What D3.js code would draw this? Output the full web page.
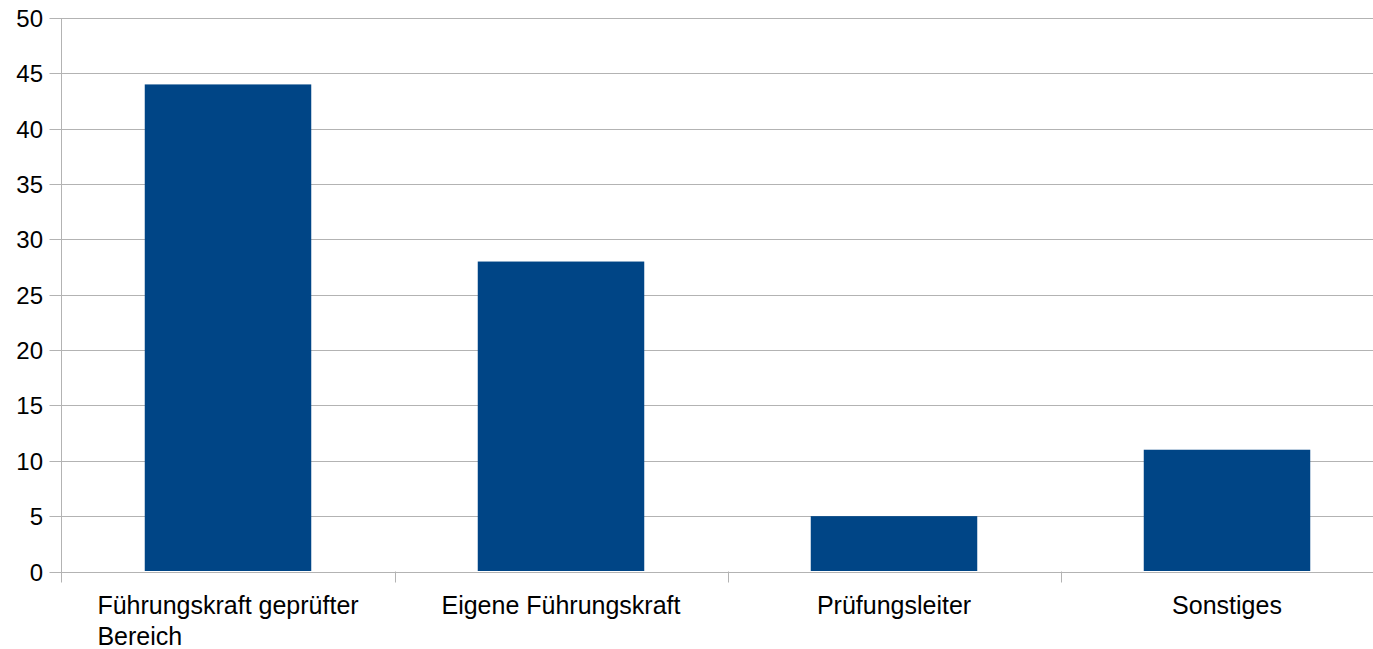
<!DOCTYPE html>
<head>
    <script src="https://d3js.org/d3.v7.min.js"></script>
    <style>
        body { margin: 0; background: #fff; }
        text { font-family: "Liberation Sans", Arial, sans-serif; fill: #000; }
    </style>
</head>
<body>
    <svg></svg>
</body>

<script>
    // Data
    var categories = ["Führungskraft geprüfter Bereich", "Eigene Führungskraft", "Prüfungsleiter", "Sonstiges"];
    var labelLines = [["Führungskraft geprüfter", "Bereich"], ["Eigene Führungskraft"], ["Prüfungsleiter"], ["Sonstiges"]];
    var values = [44, 28, 5, 11];
    var yTicks = [0, 5, 10, 15, 20, 25, 30, 35, 40, 45, 50];

    // Variables
    var width = 1373;
    var height = 649;
    var plotLeft = 61.5, plotTop = 18, plotBottom = 571.5;
    var bandW = 333;

    var svg = d3.select('svg')
        .attr('width', width)
        .attr('height', height);

    var x = d3.scaleBand()
        .domain(categories)
        .range([plotLeft, plotLeft + bandW * categories.length])
        .paddingInner(0.5)
        .paddingOuter(0.25);

    var y = d3.scaleLinear()
        .domain([0, 50])
        .range([plotBottom, plotTop]);

    // Gridlines
    svg.append('g')
        .selectAll('line')
        .data(yTicks)
        .enter().append('line')
        .attr('x1', plotLeft - 12)
        .attr('x2', width)
        .attr('y1', function (d) { return Math.round(y(d)) + 0.5; })
        .attr('y2', function (d) { return Math.round(y(d)) + 0.5; })
        .style('stroke', '#b3b3b3')
        .style('stroke-width', 1);

    // Y labels
    svg.append('g')
        .selectAll('text')
        .data(yTicks)
        .enter().append('text')
        .attr('x', 43)
        .attr('y', function (d) { return Math.round(y(d)) + 9; })
        .attr('text-anchor', 'end')
        .style('font-size', '24px')
        .text(function (d) { return d; });

    // Y axis line
    svg.append('line')
        .attr('x1', plotLeft).attr('x2', plotLeft)
        .attr('y1', plotTop).attr('y2', plotBottom + 11)
        .style('stroke', '#b3b3b3');

    // Category tick marks
    svg.append('g')
        .selectAll('line')
        .data(d3.range(1, categories.length + 1))
        .enter().append('line')
        .attr('x1', function (i) { return Math.round(plotLeft + i * bandW) + 0.5; })
        .attr('x2', function (i) { return Math.round(plotLeft + i * bandW) + 0.5; })
        .attr('y1', plotBottom)
        .attr('y2', plotBottom + 11)
        .style('stroke', '#b3b3b3');

    // Bars
    svg.append('g')
        .selectAll('rect')
        .data(values)
        .enter().append('rect')
        .attr('x', function (d, i) { return x(categories[i]); })
        .attr('y', function (d) { return y(d); })
        .attr('width', x.bandwidth())
        .attr('height', function (d) { return plotBottom - 0.5 - y(d); })
        .style('fill', '#004586');

    // Category labels (block centred, lines left-aligned)
    var lbl = svg.append('g')
        .selectAll('text')
        .data(labelLines)
        .enter().append('text')
        .style('font-size', '25px')
        .attr('y', 614);

    lbl.each(function (lines, i) {
        var t = d3.select(this);
        lines.forEach(function (s, j) {
            t.append('tspan').attr('x', 0).attr('dy', j ? 31 : 0).text(s);
        });
        var w = this.getBBox().width;
        var cx = x(categories[i]) + x.bandwidth() / 2;
        t.selectAll('tspan').attr('x', cx - w / 2);
    });
</script>
